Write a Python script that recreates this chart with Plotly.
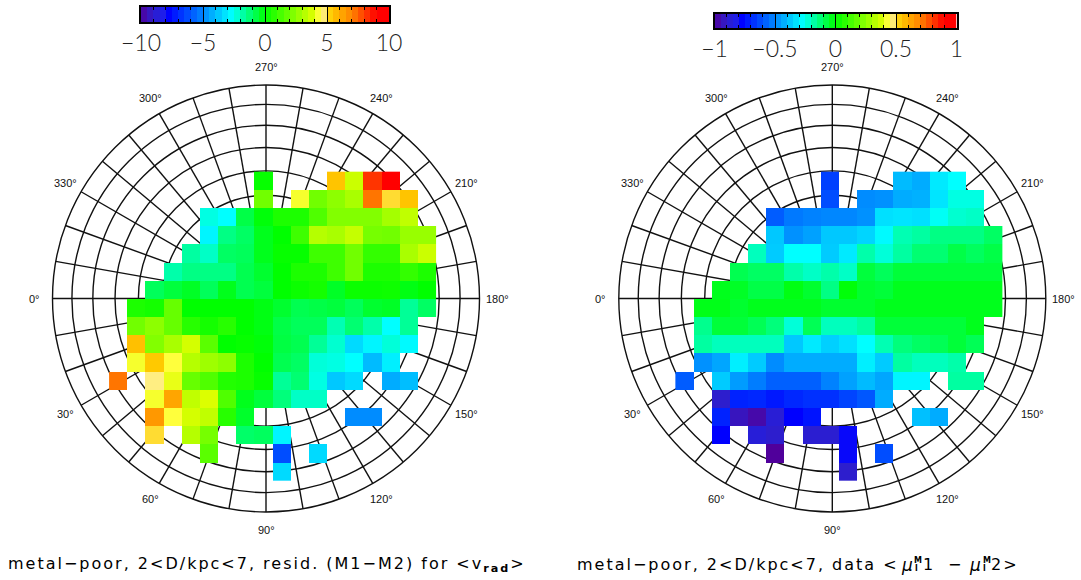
import numpy as np
import plotly.graph_objects as go

_ = None
W, H = 1081, 580

# ---------- data: rows run top to bottom, 18 columns ----------
RESID_VRAD = [
 [_,_,_,_,_,_,_,_,.1,_,_,_,5.5,3.6,8.2,9.5,_,_],
 [_,_,_,_,_,_,_,_,2.0,_,4.2,2.0,2.5,3.0,7.2,5.0,5.5,_],
 [_,_,_,_,_,-2.4,-2.7,-.75,-.1,.5,.5,1.4,2.3,2.3,2.3,2.9,3.4,_],
 [_,_,_,_,_,-2.9,-1.4,-1.05,-.3,0,1.1,3.2,3.0,3.5,2.1,2.0,2.7,2.7],
 [_,_,_,_,-1.7,-2.1,-1.05,-.95,-.3,.1,.1,1.1,1.1,2.0,.9,.9,3.0,3.6],
 [_,_,_,-1.8,-1.4,-1.4,-1.4,-.85,-.5,0,.5,.5,1.1,2.0,.5,.5,.9,.5],
 [_,_,-.95,-.65,-.4,-.95,-.3,-.85,-.65,0,.2,.35,-.4,.2,.2,.25,-.2,0],
 [_,.5,.35,1.8,0,0,0,0,-.2,-.5,-.85,-.75,-.65,-.95,-.5,-.4,-1.6,-1.05],
 [_,2.0,2.5,1.8,.7,.35,.7,0,-.2,-.75,-.95,-.95,-1.9,-1.2,-1.8,-2.7,-1.6,_],
 [_,5.6,2.3,3.0,3.75,1.6,0,.1,-.1,-.7,-.85,-1.6,-2.2,-3.4,-2.9,-2.3,-2.8,_],
 [_,4.2,5.4,4.3,3.2,2.8,2.5,.5,0,-.85,-1.05,-2.3,-2.4,-2.7,-4.0,-3.0,_,_],
 [7.2,_,4.7,4.05,1.8,1.4,.6,.5,.1,-1.6,-1.2,-2.4,-3.75,-3.4,_,-4.3,-3.95,_],
 [_,_,4.2,6.2,3.4,3.9,1.4,-.3,-.65,-1.3,-2.1,-2.1,_,_,_,_,_,_],
 [_,_,6.5,4.3,3.75,3.4,.7,-.45,_,_,_,_,_,-4.9,-4.9,_,_,_],
 [_,_,5.0,_,3.2,2.1,_,-1.1,-1.0,-2.9,_,_,_,_,_,_,_,_],
 [_,_,_,_,_,1.6,_,_,_,-6.2,_,-3.4,_,_,_,_,_,_],
 [_,_,_,_,_,_,_,_,_,-3.4,_,_,_,_,_,_,_,_],
]
DATA_MU = [
 [_,_,_,_,_,_,_,_,-.65,_,_,_,-.40,-.43,-.31,-.27,_,_],
 [_,_,_,_,_,_,_,_,-.62,_,-.49,-.48,-.43,-.42,-.32,-.24,-.24,_],
 [_,_,_,_,_,-.59,-.53,-.51,-.50,-.50,-.48,-.33,-.32,-.33,-.26,-.22,-.21,_],
 [_,_,_,_,_,-.375,-.48,-.45,-.375,-.375,-.35,-.28,-.19,-.17,-.14,-.14,-.14,-.105],
 [_,_,_,_,-.20,-.37,-.27,-.27,-.37,-.31,-.18,-.23,-.17,-.12,-.12,-.075,-.10,-.075],
 [_,_,_,-.085,-.105,-.105,-.18,-.21,-.18,-.21,-.065,-.095,-.06,-.06,-.06,-.06,-.06,-.06],
 [_,_,-.03,-.04,-.075,-.075,-.02,-.05,-.14,-.01,-.05,-.06,-.03,-.03,-.03,-.03,-.03,-.03],
 [_,-.025,-.025,-.05,-.03,-.03,-.03,-.03,-.05,-.05,-.05,-.03,-.03,-.03,-.03,-.03,-.03,-.03],
 [_,-.15,-.06,-.06,-.09,-.13,-.23,-.09,-.20,-.20,-.17,-.06,-.06,-.06,-.06,-.06,-.03,_],
 [_,-.17,-.20,-.20,-.20,-.20,-.375,-.31,-.36,-.33,-.27,-.19,-.13,-.105,-.09,-.06,-.09,_],
 [_,-.48,-.44,-.30,-.37,-.49,-.43,-.43,-.43,-.43,-.30,-.37,-.17,-.20,-.20,-.18,_,_],
 [-.59,_,-.37,-.46,-.52,-.58,-.58,-.58,-.51,-.45,-.40,-.44,-.29,-.29,_,-.17,-.17,_],
 [_,_,-.90,-.71,-.70,-.73,-.70,-.68,-.68,-.64,-.60,-.43,_,_,_,_,_,_],
 [_,_,-.71,-.93,-.97,-.88,-.78,-.74,_,_,_,_,_,-.39,-.43,_,_,_],
 [_,_,-.78,_,-.87,-.90,_,-.89,-.89,-.79,_,_,_,_,_,_,_,_],
 [_,_,_,_,_,-1.0,_,_,_,-.79,_,-.62,_,_,_,_,_,_],
 [_,_,_,_,_,_,_,_,_,-.90,_,_,_,_,_,_,_,_],
]
LON_LABELS = [0, 30, 60, 90, 120, 150, 180, 210, 240, 270, 300, 330]
LEFT_TICKS = [-10, -5, 0, 5, 10]
RIGHT_TICKS = [-1, -0.5, 0, 0.5, 1]
RIGHT_TICK_TEXT = ["\u22121", "\u22120.5", "0", "0.5", "1"]
LEFT_TICK_TEXT = ["\u221210", "\u22125", "0", "5", "10"]
TITLE_LEFT = "metal\u2212poor, 2&lt;D/kpc&lt;7, resid. (M1\u2212M2) for &lt;v<sub><b>rad</b></sub>&gt;"
TITLE_RIGHT = "metal\u2212poor, 2&lt;D/kpc&lt;7, data &lt;"

# ---------- colour scale: value on -10..10 ----------
STOPS = [(-10,(80,0,155)),(-9,(45,30,205)),(-8.2,(30,30,235)),(-7.8,(0,0,255)),(-5,(0,135,255)),
         (-2.7,(0,255,255)),(0,(0,255,0)),(3.9,(220,255,0)),(4.3,(255,255,60)),(4.7,(255,238,130)),
         (5.0,(255,220,50)),(5.3,(255,205,0)),(7,(255,130,0)),(9,(255,0,0)),(10,(255,0,0))]
CSCALE = [[(v+10)/20, f"rgb{c}"] for v, c in STOPS]

# ---------- layout constants, px ----------
R_PX = 213.5
CY = 298.5
CX_L, CX_R = 266.0, 832.3
HALF = 240.0
CELL = 0.085
X0 = -0.735
Y0 = 0.594
LINE = "#111111"

def dom_x(a, b): return [a/W, b/W]
def dom_y(a, b): return [1-b/H, 1-a/H]

fig = go.Figure()

def add_map(n, cx, rows, zmax):
    xa, ya = f"x{n}", f"y{n}"
    line = dict(color=LINE, width=1.4)
    # grid under the cells
    for th in range(10, 100, 10):
        r = np.sqrt(2)*np.sin(np.radians(th)/2)
        fig.add_shape(type="circle", x0=-r, x1=r, y0=-r, y1=r, xref=xa, yref=ya, line=line, layer="below")
    r0 = np.sqrt(2)*np.sin(np.radians(10)/2)
    for lon in range(0, 360, 10):
        a = np.radians(lon)
        fig.add_shape(type="line", x0=-r0*np.cos(a), y0=-r0*np.sin(a), x1=-np.cos(a), y1=-np.sin(a),
                      xref=xa, yref=ya, line=line, layer="below")
    nrow, ncol = len(rows), len(rows[0])
    xc = X0 + CELL*(np.arange(ncol)+.5)
    yc = Y0 - CELL*(np.arange(nrow)+.5)
    fig.add_trace(go.Heatmap(x=xc, y=yc, z=rows, zmin=-zmax, zmax=zmax, colorscale=CSCALE,
                             showscale=False, xaxis=xa, yaxis=ya, hoverongaps=False))
    rng = HALF/R_PX
    hidden = dict(visible=False, range=[-rng, rng], automargin=False)
    fig.layout[f"xaxis{n}"] = dict(domain=dom_x(cx-HALF, cx+HALF), anchor=ya, **hidden)
    fig.layout[f"yaxis{n}"] = dict(domain=dom_y(CY-HALF, CY+HALF), anchor=xa, **hidden)
    for lon in LON_LABELS:
        a = np.radians(lon)
        rl = 1.082 if lon % 180 else 1.085
        fig.add_annotation(x=-rl*np.cos(a), y=-rl*np.sin(a), xref=xa, yref=ya, text=f"{lon}\u00b0",
                           showarrow=False, font=dict(family="Liberation Sans", size=11, color="#111"))

def add_bar(n, x0, x1, y0, y1, zmax, ticks, ticktext, dminor, centers_step):
    xa, ya = f"x{n}", f"y{n}"
    lev = np.arange(-zmax+centers_step/2, zmax, centers_step)
    fig.add_trace(go.Heatmap(x=lev, y=[0, 1], z=[lev, lev], zmin=-zmax, zmax=zmax, colorscale=CSCALE,
                             showscale=False, xaxis=xa, yaxis=ya, hoverinfo="skip"))
    fig.layout[f"xaxis{n}"] = dict(
        domain=dom_x(x0, x1), anchor=ya, range=[-zmax, zmax], showgrid=False, zeroline=False, automargin=False,
        showline=True, linecolor="#000", linewidth=1.6, mirror="allticks", side="bottom",
        ticks="inside", tickvals=ticks, ticktext=ticktext, ticklen=int(y1-y0), tickwidth=1.3, tickcolor="#000",
        tickfont=dict(family="Lato", weight=300, size=23, color="#222"),
        minor=dict(ticks="inside", dtick=dminor, tick0=-zmax, ticklen=3.5, tickwidth=1, tickcolor="#000", showgrid=False))
    fig.layout[f"yaxis{n}"] = dict(domain=dom_y(y0, y1), anchor=xa, range=[-.5, 1.5], showgrid=False, zeroline=False,
                                   automargin=False, showticklabels=False, ticks="", showline=True, linecolor="#000",
                                   linewidth=1.6, mirror=True)

add_map(1, CX_L, RESID_VRAD, 10)
add_map(2, CX_R, DATA_MU, 1)
add_bar(3, 141, 389, 7, 22, 10, LEFT_TICKS, LEFT_TICK_TEXT, 1, 0.5)
add_bar(4, 714.5, 956.5, 14, 28, 1, RIGHT_TICKS, RIGHT_TICK_TEXT, 0.1, 0.05)

TF = dict(family="DejaVu Sans", size=16, color="#000")
def label(px, py, text, font=TF):
    fig.add_annotation(x=px/W, y=1-py/H, xref="paper", yref="paper", text=text, showarrow=False,
                       xanchor="center", yanchor="middle", font=font)

label(266.5, 564, TITLE_LEFT)
label(738, 564, TITLE_RIGHT)
MU = dict(family="DejaVu Sans", size=17, color="#000", weight=400, style="italic")
SMALL = dict(family="DejaVu Sans", size=8, color="#000", weight=700)
label(906.5, 565, "\u03bc", font=MU)
label(918, 560, "M", font=SMALL)
label(916, 568, "l", font=SMALL)
label(928.5, 564, "1", font=TF)
label(955, 564, "\u2212", font=TF)
label(975, 565, "\u03bc", font=MU)
label(986.5, 560, "M", font=SMALL)
label(984.5, 568, "l", font=SMALL)
label(1005, 564, "2&gt;", font=TF)

fig.update_layout(width=W, height=H, margin=dict(l=0, r=0, t=0, b=0, autoexpand=False), autosize=False,
                  paper_bgcolor="white", plot_bgcolor="white", showlegend=False)

POST = """
document.body.style.margin='0';
document.querySelectorAll('.annotation-text').forEach(function(t){
  var s=parseFloat(t.style.fontSize);
  if(s===16){t.style.letterSpacing='2px';}
});
document.querySelectorAll('.xtick text').forEach(function(t){t.style.letterSpacing='2px';});
"""
fig.write_html("out.html", post_script=POST, config=dict(displayModeBar=False))
